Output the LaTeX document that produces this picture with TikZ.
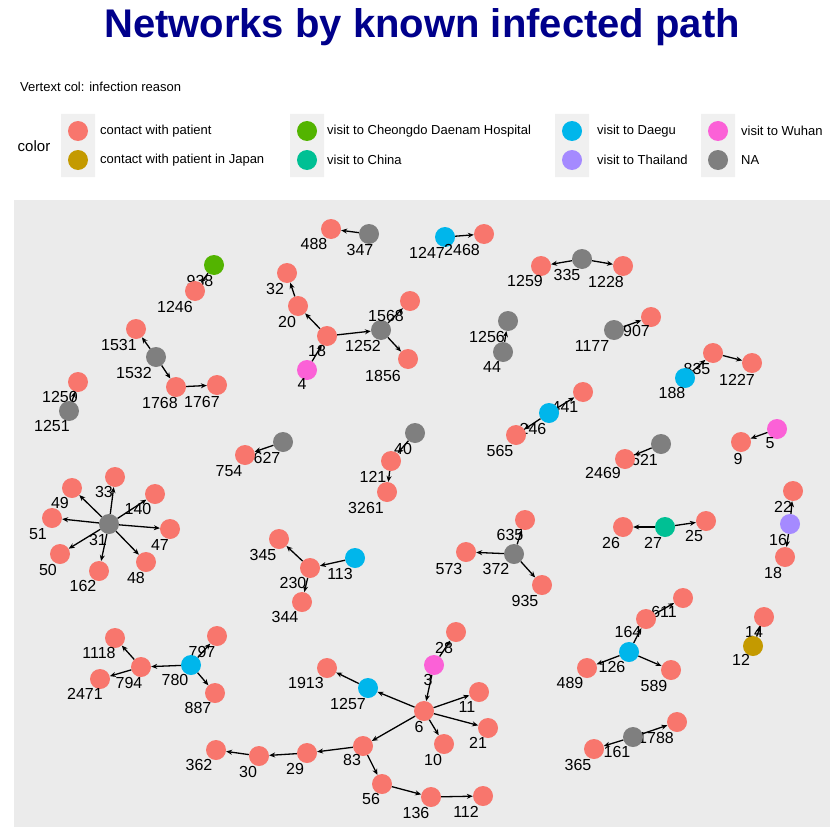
\documentclass[tikz,border=0pt]{standalone}
\usepackage{fontspec}
\setmainfont{Liberation Sans}
\usetikzlibrary{arrows.meta}
\definecolor{cR}{HTML}{F8766D}\definecolor{cO}{HTML}{C49A00}\definecolor{cG}{HTML}{53B400}
\definecolor{cT}{HTML}{00C094}\definecolor{cB}{HTML}{00B6EB}\definecolor{cP}{HTML}{A58AFF}
\definecolor{cK}{HTML}{FB61D7}\definecolor{cN}{HTML}{7F7F7F}\definecolor{navy}{HTML}{00008B}
\newcommand{\vtx}[7]{\node[v,fill=#4] (#1) at (#2,#3) {};\node[lab] (l#1) at (#6,#7) {#5};}
\tikzset{v/.style={circle,minimum size=20pt,inner sep=0pt},
 lab/.style={font=\fontsize{16}{16}\selectfont,inner sep=0pt},
 e/.style={-{Stealth[length=6pt,width=5pt]},line width=1.3pt},
 key/.style={circle,minimum size=20pt,inner sep=0pt},
 kt/.style={font=\fontsize{13}{13}\selectfont,anchor=west,inner sep=0pt}}
\begin{document}
\begin{tikzpicture}[x=1pt,y=-1pt]
\useasboundingbox (0,0) rectangle (840,840);
\node[font=\fontsize{40}{40}\selectfont\bfseries,text=navy] (title) at (422,27) {Networks by known infected path};
\node[kt] (sub) at (20,87) {Vertext col: infection reason};
\node[font=\fontsize{15}{15}\selectfont] (ct) at (34,146) {color};
\fill[gray!12] (61,114) rectangle (95,177) (290,114) rectangle (324,177) (555,114) rectangle (589,177) (701,114) rectangle (735,177);
\node[key,fill=cR] (k1) at (78,131) {};\node[kt] (t1) at (100,131) {contact with patient};
\node[key,fill=cO] (k2) at (78,160) {};\node[kt] (t2) at (100,160) {contact with patient in Japan};
\node[key,fill=cG] (k3) at (307,131) {};\node[kt] (t3) at (327,131) {visit to Cheongdo Daenam Hospital};
\node[key,fill=cT] (k4) at (307,160) {};\node[kt] (t4) at (327,160) {visit to China};
\node[key,fill=cB] (k5) at (572,131) {};\node[kt] (t5) at (597,131) {visit to Daegu};
\node[key,fill=cP] (k6) at (572,160) {};\node[kt] (t6) at (597,160) {visit to Thailand};
\node[key,fill=cK] (k7) at (718,131) {};\node[kt] (t7) at (741,131) {visit to Wuhan};
\node[key,fill=cN] (k8) at (718,160) {};\node[kt] (t8) at (741,160) {NA};
\fill[gray!16] (14,200) rectangle (830,827);
% vertices
\vtx{488}{331}{229}{cR}{488}{314}{244}\vtx{347}{369}{234}{cN}{347}{360}{250}
\vtx{1247}{445}{237}{cB}{1247}{427}{253}\vtx{2468}{484}{234}{cR}{2468}{462}{250}
\vtx{938}{214}{265}{cG}{938}{200}{281}\vtx{1246}{195}{291}{cR}{1246}{175}{307}
\vtx{32}{287}{273}{cR}{32}{275}{289}\vtx{20}{298}{306}{cR}{20}{287}{322}
\vtx{18}{327}{336}{cR}{18}{317}{351}\vtx{4}{307}{370}{cK}{4}{302}{384}
\vtx{1252}{381}{330}{cN}{1252}{363}{346}\vtx{1568}{410}{301}{cR}{1568}{386}{316}
\vtx{1856}{408}{359}{cR}{1856}{383}{376}
\vtx{1259}{541}{266}{cR}{1259}{525}{281}\vtx{335}{582}{259}{cN}{335}{567}{275}
\vtx{1228}{623}{266}{cR}{1228}{606}{282}
\vtx{1907}{651}{317}{cR}{1907}{632}{331}\vtx{1177}{614}{330}{cN}{1177}{592}{346}
\vtx{1256}{508}{321}{cN}{1256}{487}{337}\vtx{44}{503}{352}{cN}{44}{492}{367}
\vtx{1531}{136}{329}{cR}{1531}{119}{345}\vtx{1532}{156}{357}{cN}{1532}{134}{373}
\vtx{1768}{176}{387}{cR}{1768}{160}{403}\vtx{1767}{217}{385}{cR}{1767}{202}{402}
\vtx{1250}{78}{382}{cR}{1250}{60}{397}\vtx{1251}{69}{411}{cN}{1251}{52}{426}
\vtx{835}{713}{353}{cR}{835}{697}{369}\vtx{1227}{752}{363}{cR}{1227}{737}{380}
\vtx{188}{685}{378}{cB}{188}{672}{393}
\vtx{441}{583}{392}{cR}{441}{565}{407}\vtx{246}{549}{413}{cB}{246}{533}{429}
\vtx{565}{516}{435}{cR}{565}{500}{451}
\vtx{40}{415}{433}{cN}{40}{403}{449}\vtx{121}{391}{461}{cR}{121}{373}{477}
\vtx{3261}{387}{492}{cR}{3261}{366}{508}
\vtx{627}{283}{442}{cN}{627}{267}{458}\vtx{754}{245}{455}{cR}{754}{229}{471}
\vtx{2621}{661}{444}{cN}{2621}{640}{460}\vtx{2469}{625}{459}{cR}{2469}{603}{473}
\vtx{5}{777}{429}{cK}{5}{770}{443}\vtx{9}{741}{442}{cR}{9}{738}{459}
\vtx{31}{109}{524}{cN}{31}{98}{540}\vtx{33}{115}{477}{cR}{33}{104}{492}
\vtx{140}{155}{494}{cR}{140}{138}{509}\vtx{49}{72}{488}{cR}{49}{60}{503}
\vtx{51}{52}{518}{cR}{51}{38}{534}\vtx{47}{170}{529}{cR}{47}{160}{545}
\vtx{50}{60}{554}{cR}{50}{48}{570}\vtx{162}{99}{571}{cR}{162}{83}{586}
\vtx{48}{146}{562}{cR}{48}{136}{578}
\vtx{635}{525}{520}{cR}{635}{510}{535}\vtx{372}{514}{554}{cN}{372}{496}{569}
\vtx{573}{466}{552}{cR}{573}{449}{569}\vtx{935}{542}{585}{cR}{935}{525}{601}
\vtx{22}{793}{491}{cR}{22}{783}{507}\vtx{16}{790}{524}{cP}{16}{778}{540}
\vtx{18b}{785}{557}{cR}{18}{773}{573}
\vtx{26}{623}{527}{cR}{26}{611}{543}\vtx{27}{665}{527}{cT}{27}{653}{543}
\vtx{25}{706}{521}{cR}{25}{694}{536}
\vtx{345}{279}{539}{cR}{345}{263}{555}\vtx{113}{355}{558}{cB}{113}{340}{574}
\vtx{230}{310}{568}{cR}{230}{293}{583}\vtx{344}{302}{602}{cR}{344}{285}{617}
\vtx{611}{683}{598}{cR}{611}{664}{612}\vtx{164}{646}{619}{cR}{164}{628}{632}
\vtx{126}{629}{652}{cB}{126}{612}{667}\vtx{489}{587}{668}{cR}{489}{570}{683}
\vtx{589}{671}{670}{cR}{589}{654}{686}
\vtx{14}{764}{617}{cR}{14}{754}{632}\vtx{12}{753}{646}{cO}{12}{741}{660}
\vtx{797}{217}{636}{cR}{797}{202}{652}\vtx{780}{191}{665}{cB}{780}{175}{680}
\vtx{887}{215}{693}{cR}{887}{198}{708}\vtx{794}{141}{667}{cR}{794}{129}{683}
\vtx{1118}{115}{638}{cR}{1118}{99}{653}\vtx{2471}{100}{679}{cR}{2471}{85}{694}
\vtx{28}{456}{632}{cR}{28}{444}{648}\vtx{3}{434}{665}{cK}{3}{428}{680}
\vtx{6}{424}{711}{cR}{6}{419}{727}\vtx{1257}{368}{688}{cB}{1257}{348}{704}
\vtx{1913}{327}{668}{cR}{1913}{306}{683}\vtx{11}{479}{692}{cR}{11}{467}{707}
\vtx{21}{488}{728}{cR}{21}{478}{743}\vtx{10}{444}{744}{cR}{10}{433}{760}
\vtx{83}{363}{746}{cR}{83}{352}{760}\vtx{29}{307}{753}{cR}{29}{295}{769}
\vtx{30}{259}{756}{cR}{30}{248}{772}\vtx{362}{216}{750}{cR}{362}{199}{765}
\vtx{56}{382}{784}{cR}{56}{371}{799}\vtx{136}{431}{797}{cR}{136}{416}{813}
\vtx{112}{483}{796}{cR}{112}{466}{812}
\vtx{1788}{677}{722}{cR}{1788}{656}{738}\vtx{161}{633}{737}{cN}{161}{617}{752}
\vtx{365}{594}{749}{cR}{365}{578}{765}
% edges
\foreach \a/\b in {347/488,1247/2468,938/1246,4/18,18/20,20/32,18/1252,1252/1568,1252/1856,
 335/1259,335/1228,1177/1907,44/1256,1532/1531,1532/1768,1768/1767,1251/1250,188/835,835/1227,
 246/441,246/565,40/121,121/3261,627/754,2621/2469,5/9,
 31/33,31/140,31/49,31/51,31/47,31/50,31/162,31/48,
 372/635,372/573,372/935,16/22,16/18b,27/26,27/25,113/230,230/345,230/344,
 126/164,164/611,126/489,126/589,12/14,780/797,780/887,780/794,794/1118,794/2471,
 3/28,3/6,6/1257,1257/1913,6/11,6/21,6/10,6/83,83/29,29/30,30/362,83/56,56/136,136/112,
 161/1788,161/365}
 \draw[e] (\a) -- (\b);
\end{tikzpicture}
\end{document}
